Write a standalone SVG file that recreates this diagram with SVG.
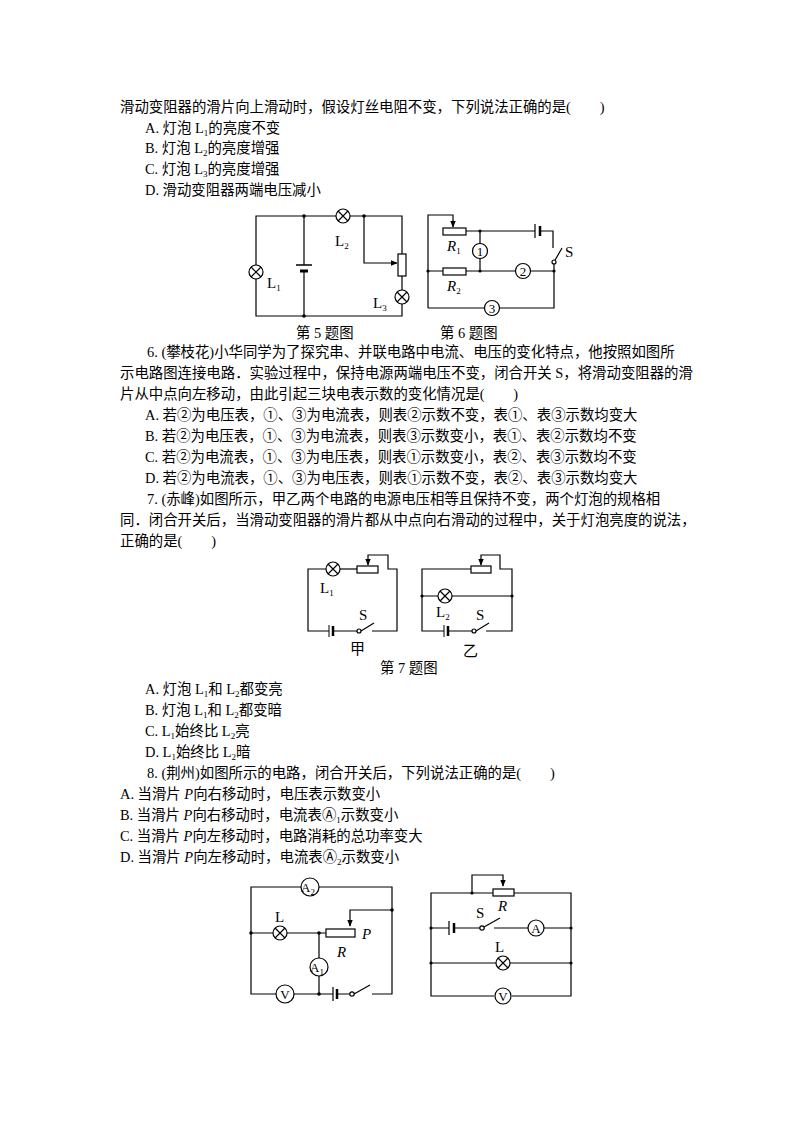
<svg xmlns="http://www.w3.org/2000/svg" width="794" height="1123" viewBox="0 0 794 1123">
<style>
.t{font-family:"Liberation Serif","Noto Sans CJK SC",serif;font-size:14.4px;fill:#000}
.l{font-family:"Liberation Serif","Noto Sans CJK SC",serif;font-size:15px;fill:#000}
.m{font-family:"Liberation Serif",serif;font-size:13px;fill:#000}
.i{font-style:italic}
.s{font-size:9px}
.w{fill:none;stroke:#000;stroke-width:1.2}
.c{fill:#fff;stroke:#000;stroke-width:1.2}
.d{fill:#000}
</style>
<defs>
<marker id="ar" viewBox="0 0 10 10" refX="9" refY="5" markerWidth="6" markerHeight="6" orient="auto"><path d="M0,1 L10,5 L0,9z" fill="#000"/></marker>
<g id="lamp"><circle r="7" class="c"/><path d="M-5,-5 L5,5 M-5,5 L5,-5" class="w"/></g>
</defs>
<rect width="794" height="1123" fill="#fff"/>
<g id="text">
<text class="t" x="120" y="112">滑动变阻器的滑片向上滑动时，假设灯丝电阻不变，下列说法正确的是(　　)</text>
<text class="t" x="145" y="133">A. 灯泡 L<tspan class="s" dy="3">1</tspan><tspan dy="-3">的亮度不变</tspan></text>
<text class="t" x="145" y="153">B. 灯泡 L<tspan class="s" dy="3">2</tspan><tspan dy="-3">的亮度增强</tspan></text>
<text class="t" x="145" y="174">C. 灯泡 L<tspan class="s" dy="3">3</tspan><tspan dy="-3">的亮度增强</tspan></text>
<text class="t" x="145" y="195">D. 滑动变阻器两端电压减小</text>
<text class="t" x="296" y="338">第 5 题图</text>
<text class="t" x="440" y="338">第 6 题图</text>
<text class="t" x="147" y="357">6. (攀枝花)小华同学为了探究串、并联电路中电流、电压的变化特点，他按照如图所</text>
<text class="t" x="120" y="378">示电路图连接电路．实验过程中，保持电源两端电压不变，闭合开关 S，将滑动变阻器的滑</text>
<text class="t" x="120" y="399">片从中点向左移动，由此引起三块电表示数的变化情况是(　　)</text>
<text class="t" x="145" y="420">A. 若②为电压表，①、③为电流表，则表②示数不变，表①、表③示数均变大</text>
<text class="t" x="145" y="441">B. 若②为电压表，①、③为电流表，则表③示数变小，表①、表②示数均不变</text>
<text class="t" x="145" y="462">C.  若②为电流表，①、③为电压表，则表①示数变小，表②、表③示数均不变</text>
<text class="t" x="145" y="483">D. 若②为电流表，①、③为电压表，则表①示数不变，表②、表③示数均变大</text>
<text class="t" x="147" y="504">7. (赤峰)如图所示，甲乙两个电路的电源电压相等且保持不变，两个灯泡的规格相</text>
<text class="t" x="120" y="525">同．闭合开关后，当滑动变阻器的滑片都从中点向右滑动的过程中，关于灯泡亮度的说法，</text>
<text class="t" x="120" y="546">正确的是(　　)</text>
<text class="t" x="380" y="673">第 7 题图</text>
<text class="t" x="145" y="694">A. 灯泡 L<tspan class="s" dy="3">1</tspan><tspan dy="-3">和 L</tspan><tspan class="s" dy="3">2</tspan><tspan dy="-3">都变亮</tspan></text>
<text class="t" x="145" y="715">B. 灯泡 L<tspan class="s" dy="3">1</tspan><tspan dy="-3">和 L</tspan><tspan class="s" dy="3">2</tspan><tspan dy="-3">都变暗</tspan></text>
<text class="t" x="145" y="736">C. L<tspan class="s" dy="3">1</tspan><tspan dy="-3">始终比 L</tspan><tspan class="s" dy="3">2</tspan><tspan dy="-3">亮</tspan></text>
<text class="t" x="145" y="757">D. L<tspan class="s" dy="3">1</tspan><tspan dy="-3">始终比 L</tspan><tspan class="s" dy="3">2</tspan><tspan dy="-3">暗</tspan></text>
<text class="t" x="147" y="778">8. (荆州)如图所示的电路，闭合开关后，下列说法正确的是(　　)</text>
<text class="t" x="120" y="799">A. 当滑片 <tspan class="i">P</tspan>向右移动时，电压表示数变小</text>
<text class="t" x="120" y="820">B. 当滑片 <tspan class="i">P</tspan>向右移动时，电流表Ⓐ<tspan class="s" dy="3">1</tspan><tspan dy="-3">示数变小</tspan></text>
<text class="t" x="120" y="841">C. 当滑片 <tspan class="i">P</tspan>向左移动时，电路消耗的总功率变大</text>
<text class="t" x="120" y="862">D. 当滑片 <tspan class="i">P</tspan>向左移动时，电流表Ⓐ<tspan class="s" dy="3">2</tspan><tspan dy="-3">示数变小</tspan></text>
</g>
<g id="connectors">
<path class="w" d="M256,265 V216 H336 M350,216 H402 V254 M402,276 V290 M402,304 V316 H256 V279"/>
<path class="w" d="M304,216 V265 M304,271 V316"/>
<path class="w" d="M364,216 V263 H397" marker-end="url(#ar)"/>
<path class="w" d="M428,308 V215 H453 V227" marker-end="url(#ar)"/>
<path class="w" d="M466,231 H535 M541,231 H553 V248"/>
<path class="w" d="M428,271 H443 M466,271 H516 M530,271 H554 V308 H499 M485,308 H428"/>
<path class="w" d="M480,231 V244 M480,258 V271"/>
<path class="w" d="M554,271 V262 L562,248"/>
<path class="w" d="M326,569 H308 V631 H329 M333,631 H359 M372,631 H397 V569 H388 V555 H368 V565" marker-end="url(#ar)"/>
<path class="w" d="M340,569 H357"/>
<path class="w" d="M361,631 L374,623"/>
<path class="w" d="M471,569 H422 V631 H444 M448,631 H474 M486,631 H512 V569 H500 V555 H481 V565" marker-end="url(#ar)"/>
<path class="w" d="M422,596 H438 M452,596 H512"/>
<path class="w" d="M476,631 L489,623"/>
<path class="w" d="M301,887 H251 V994 H276 M294,994 H333 M337,994 H352 M372,994 H392 V887 H319"/>
<path class="w" d="M251,933 H273 M287,933 H326"/>
<path class="w" d="M319,933 V958 M319,976 V994"/>
<path class="w" d="M392,910 H350 V926" marker-end="url(#ar)"/>
<path class="w" d="M354,994 L370,985"/>
<path class="w" d="M493,893 H431 V996 H494 M512,996 H571 V893 H514"/>
<path class="w" d="M472,893 V875 H503 V886" marker-end="url(#ar)"/>
<path class="w" d="M431,928 H449 M455,928 H481 M494,928 H528 M544,928 H571"/>
<path class="w" d="M484,927 L500,918"/>
<path class="w" d="M431,963 H496 M510,963 H571"/>
</g>
<g id="fig5">
<use href="#lamp" x="256" y="272"/><use href="#lamp" x="343" y="216"/><use href="#lamp" x="402" y="297"/>
<path d="M296,265 H312" stroke="#000" stroke-width="1.5"/>
<path d="M300,271 H308" stroke="#000" stroke-width="3"/>
<rect x="398" y="254" width="8" height="22" class="c"/>
<circle cx="304" cy="216" r="1.8" class="d"/><circle cx="304" cy="316" r="1.8" class="d"/><circle cx="364" cy="216" r="1.8" class="d"/>
<text class="l" x="335" y="246">L<tspan class="s" dy="3">2</tspan></text>
<text class="l" x="267" y="288">L<tspan class="s" dy="3">1</tspan></text>
<text class="l" x="373" y="308">L<tspan class="s" dy="3">3</tspan></text>
</g>
<g id="fig6">
<rect x="443" y="228" width="23" height="7" class="c"/>
<rect x="443" y="268" width="23" height="7" class="c"/>
<path d="M535,224 V238" stroke="#000" stroke-width="1.2"/><path d="M540,226 V236" stroke="#000" stroke-width="2.5"/>
<circle cx="480" cy="251" r="7.5" class="c"/><text class="m" x="480" y="256" text-anchor="middle">1</text>
<circle cx="523" cy="271" r="7.5" class="c"/><text class="m" x="523" y="276" text-anchor="middle">2</text>
<circle cx="492" cy="308" r="7.5" class="c"/><text class="m" x="492" y="313" text-anchor="middle">3</text>
<circle cx="554" cy="262" r="2" class="c"/>
<circle cx="480" cy="231" r="1.6" class="d"/><circle cx="480" cy="271" r="1.6" class="d"/><circle cx="428" cy="271" r="1.6" class="d"/><circle cx="554" cy="271" r="1.6" class="d"/>
<text class="l" x="565" y="257">S</text>
<text class="l i" x="447" y="251">R<tspan class="s" dy="3" font-style="normal">1</tspan></text>
<text class="l i" x="447" y="291">R<tspan class="s" dy="3" font-style="normal">2</tspan></text>
</g>
<g id="fig7">
<use href="#lamp" x="333" y="569"/>
<rect x="357" y="566" width="21" height="7" class="c"/>
<path d="M329,625 V637" stroke="#000" stroke-width="1"/><path d="M333,626 V636" stroke="#000" stroke-width="2.5"/>
<circle cx="359" cy="631" r="2" class="c"/>
<text class="l" x="320" y="593">L<tspan class="s" dy="3">1</tspan></text>
<text class="l" x="359" y="620">S</text>
<text class="l" x="350" y="654">甲</text>
<use href="#lamp" x="445" y="596"/>
<rect x="471" y="566" width="20" height="7" class="c"/>
<path d="M444,625 V637" stroke="#000" stroke-width="1"/><path d="M448,626 V636" stroke="#000" stroke-width="2.5"/>
<circle cx="474" cy="631" r="2" class="c"/>
<circle cx="422" cy="596" r="1.6" class="d"/><circle cx="512" cy="596" r="1.6" class="d"/>
<text class="l" x="436" y="617">L<tspan class="s" dy="3">2</tspan></text>
<text class="l" x="476" y="620">S</text>
<text class="l" x="463" y="656">乙</text>
</g>
<g id="fig8a">
<circle cx="310" cy="887" r="9" class="c"/><text class="m" x="308" y="892" text-anchor="middle">A<tspan class="s" dy="3">2</tspan></text>
<use href="#lamp" x="280" y="933"/>
<rect x="326" y="929" width="29" height="8" class="c"/>
<circle cx="319" cy="967" r="9" class="c"/><text class="m" x="317" y="972" text-anchor="middle">A<tspan class="s" dy="3">1</tspan></text>
<circle cx="285" cy="994" r="9" class="c"/><text class="m" x="285" y="999" text-anchor="middle">V</text>
<path d="M333,987 V1001" stroke="#000" stroke-width="1.2"/><path d="M337,989 V999" stroke="#000" stroke-width="2.5"/>
<circle cx="352" cy="994" r="2.2" class="c"/>
<circle cx="251" cy="933" r="1.8" class="d"/><circle cx="319" cy="933" r="1.8" class="d"/><circle cx="319" cy="994" r="1.8" class="d"/><circle cx="392" cy="910" r="1.8" class="d"/>
<text class="l" x="275" y="922">L</text>
<text class="l i" x="337" y="957">R</text>
<text class="l i" x="362" y="939">P</text>
</g>
<g id="fig8b">
<rect x="493" y="889" width="21" height="7" class="c"/>
<path d="M449,921 V935" stroke="#000" stroke-width="1.2"/><path d="M454,923 V933" stroke="#000" stroke-width="2.5"/>
<circle cx="482" cy="928" r="2.2" class="c"/>
<circle cx="536" cy="928" r="8" class="c"/><text class="m" x="536" y="933" text-anchor="middle">A</text>
<use href="#lamp" x="503" y="963"/>
<circle cx="503" cy="996" r="8" class="c"/><text class="m" x="503" y="1001" text-anchor="middle">V</text>
<circle cx="472" cy="893" r="1.6" class="d"/><circle cx="431" cy="928" r="1.6" class="d"/><circle cx="571" cy="928" r="1.6" class="d"/><circle cx="431" cy="963" r="1.6" class="d"/><circle cx="571" cy="963" r="1.6" class="d"/>
<text class="l i" x="498" y="911">R</text>
<text class="l" x="476" y="918">S</text>
<text class="l" x="495" y="952">L</text>
</g>
</svg>
